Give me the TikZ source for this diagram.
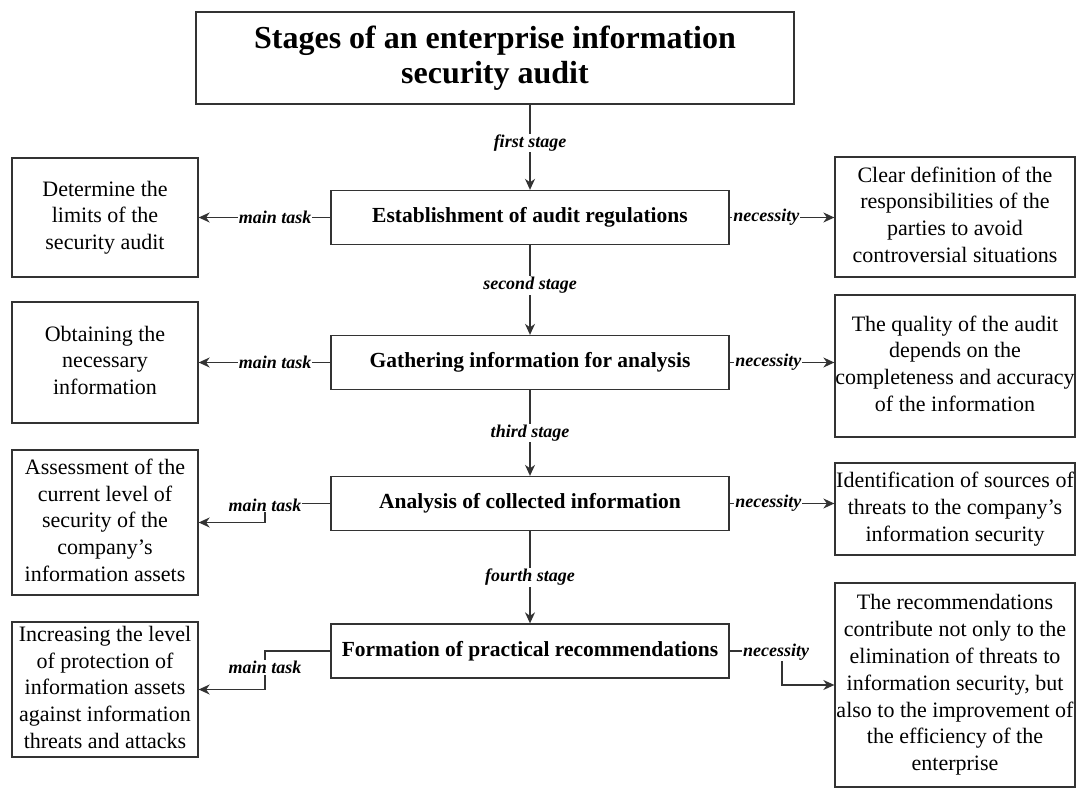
\documentclass[tikz,border=0pt]{standalone}
\usepackage{fontspec}
\setmainfont{Liberation Serif}
\usetikzlibrary{arrows.meta}
\newcommand\sidetxt[1]{\makebox[0pt][c]{\raisebox{-3pt}{\begin{tabular}{@{}c@{}}#1\end{tabular}}}}
\begin{document}
\begin{tikzpicture}[x=1pt,y=-1pt,
  box/.style={draw=black!80, line width=1.3pt, align=center, inner sep=0pt},
  titlebox/.style={box, minimum width=598pt, minimum height=92pt, font=\fontsize{32}{35}\selectfont\bfseries},
  stagebox/.style={box, minimum width=398pt, minimum height=54pt, font=\fontsize{21.5}{25}\selectfont\bfseries},
  sidebox/.style={draw=black!80, line width=1.3pt, inner sep=0pt, font=\fontsize{22}{26.8}\selectfont},
  leftbox/.style={sidebox, minimum width=186pt},
  rightbox/.style={sidebox, minimum width=240pt},
  lbl/.style={font=\fontsize{18}{20}\selectfont\bfseries\itshape, fill=white, inner sep=1pt},
  conn/.style={draw=black!80, line width=1.3pt},
  arr/.style={conn, -{Stealth[length=11pt,width=10pt,inset=3.5pt]}}
]
\useasboundingbox[fill=white] (0,0) rectangle (1087,791);

\node[titlebox] (title) at (495,58) {Stages of an enterprise information\\security audit};

\node[stagebox] (s1) at (530,217.5) {Establishment of audit regulations};
\node[stagebox] (s2) at (530,362.5) {Gathering information for analysis};
\node[stagebox] (s3) at (530,503.5) {Analysis of collected information};
\node[stagebox] (s4) at (530,651) {Formation of practical recommendations};

\node[leftbox, minimum height=119pt] (l1) at (105,217.5) {\sidetxt{Determine the\\limits of the\\security audit}};
\node[leftbox, minimum height=121pt] (l2) at (105,362.5) {\sidetxt{Obtaining the\\necessary\\information}};
\node[leftbox, minimum height=145pt] (l3) at (105,522.5) {\sidetxt{Assessment of the\\current level of\\security of the\\company's\\information assets}};
\node[leftbox, minimum height=135pt] (l4) at (105,689.5) {\sidetxt{Increasing the level\\of protection of\\information assets\\against information\\threats and attacks}};

\node[rightbox, minimum height=120pt] (r1) at (955,217) {\sidetxt{Clear definition of the\\responsibilities of the\\parties to avoid\\controversial situations}};
\node[rightbox, minimum height=142pt] (r2) at (955,366) {\sidetxt{The quality of the audit\\depends on the\\completeness and accuracy\\of the information}};
\node[rightbox, minimum height=92pt] (r3) at (955,509) {\sidetxt{Identification of sources of\\threats to the company's\\information security}};
\node[rightbox, minimum height=204pt] (r4) at (955,685) {\sidetxt{The recommendations\\contribute not only to the\\elimination of threats to\\information security, but\\also to the improvement of\\the efficiency of the\\enterprise}};

\coordinate (k3) at (265,0);
\coordinate (k4) at (782,0);

% stages
\draw[arr] (title.south -| s1) -- node[lbl, pos=0.45]{first stage} (s1);
\draw[arr] (s1) -- node[lbl, pos=0.45]{second stage} (s2);
\draw[arr] (s2) -- node[lbl]{third stage} (s3);
\draw[arr] (s3) -- node[lbl]{fourth stage} (s4);

% main tasks
\draw[arr] (s1.west) -- node[lbl, pos=0.42]{main task} (l1.east |- s1.west);
\draw[arr] (s2.west) -- node[lbl, pos=0.42]{main task} (l2.east |- s2.west);
\draw[arr] (s3.west) -- (s3.west -| k3) -- (k3 |- l3.east) -- (l3.east);
\node[lbl] (t3) at (265,505) {main task};
\draw[arr] (s4.west) -- (s4.west -| k3) -- node[lbl, pos=0.42]{main task} (k3 |- l4.east) -- (l4.east);

% necessities
\draw[arr] (s1.east) -- node[lbl, pos=0.35]{necessity} (r1.west |- s1.east);
\draw[arr] (s2.east) -- node[lbl, pos=0.37]{necessity} (r2.west |- s2.east);
\draw[arr] (s3.east) -- node[lbl, pos=0.37]{necessity} (r3.west |- s3.east);
\draw[arr] (s4.east) -- (s4.east -| k4) -- (k4 |- r4.west) -- (r4.west);
\node[lbl] (n4) at (776,652) {necessity};
\end{tikzpicture}
\end{document}
